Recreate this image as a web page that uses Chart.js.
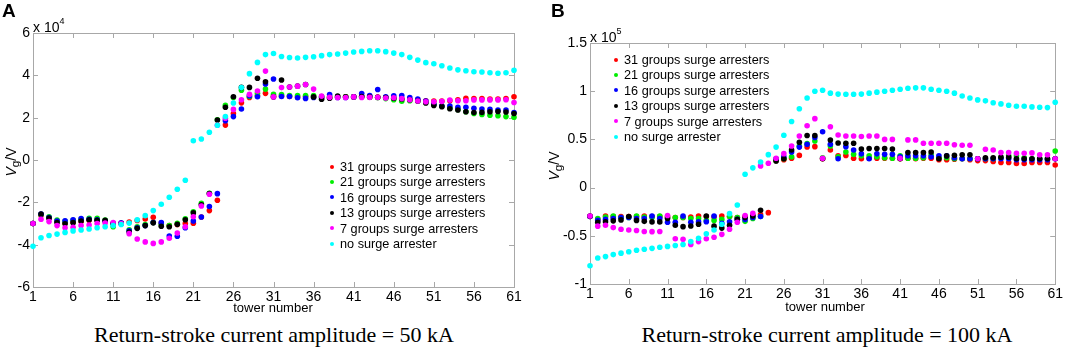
<!DOCTYPE html>
<html lang="en">
<head>
  <meta charset="UTF-8">
  <title>Ground potential along towers</title>
  <script src="https://cdn.jsdelivr.net/npm/chart.js"></script>
  <style>
    body {
      margin: 0;
      width: 1065px;
      height: 349px;
      position: relative;
      overflow: hidden;
      background: white;
      font-family: "Liberation Sans", Arial, sans-serif;
      color: black;
    }
    .abs { position: absolute; white-space: nowrap; }
    .letter { font-weight: bold; font-size: 19px; }
    .caption { font-family: "Liberation Serif", "Times New Roman", serif; font-size: 22px; transform: translateX(-50%); }
    .xlabel { font-size: 13px; transform: translateX(-50%); }
    .ylabel { font-size: 14px; transform: translate(-50%, -50%) rotate(-90deg); }
    .ylabel i { font-style: italic; }
    .expo { font-size: 14px; }
    .expo sup { font-size: 9px; position: relative; top: -2px; }
    .legend { font-size: 12.7px; line-height: 15.4px; }
    .legend span.dot {
      display: inline-block; width: 4px; height: 4px; border-radius: 50%;
      margin-right: 6px; vertical-align: middle; position: relative; top: -1px;
    }
  </style>
</head>
<body>

<canvas id="chartA" class="abs" width="530" height="320" style="left:0;top:0"></canvas>
<canvas id="chartB" class="abs" width="535" height="320" style="left:530px;top:0"></canvas>

<div class="abs letter" style="left:2px;top:0px">A</div>
<div class="abs letter" style="left:551px;top:0px">B</div>

<div class="abs expo" style="left:33px;top:18px">x 10<sup>4</sup></div>
<div class="abs expo" style="left:590px;top:28px">x 10<sup>5</sup></div>

<div class="abs ylabel" style="left:12px;top:162px"><i>V</i><sub>g</sub>/V</div>
<div class="abs ylabel" style="left:555px;top:166px"><i>V</i><sub>g</sub>/V</div>

<div class="abs xlabel" style="left:273px;top:300px">tower number</div>
<div class="abs xlabel" style="left:825px;top:299px">tower number</div>

<div class="abs caption" style="left:274px;top:322px">Return-stroke current amplitude = 50 kA</div>
<div class="abs caption" style="left:827px;top:322px">Return-stroke current amplitude = 100 kA</div>

<div id="legendA" class="abs legend" style="left:330px;top:160px"></div>
<div id="legendB" class="abs legend" style="left:614px;top:53px"></div>

<script>
  // tower numbers and axis ticks
  const towers = [1,2,3,4,5,6,7,8,9,10,11,12,13,14,15,16,17,18,19,20,
    21,22,23,24,25,26,27,28,29,30,31,32,33,34,35,36,37,38,39,40,
    41,42,43,44,45,46,47,48,49,50,51,52,53,54,55,56,57,58,59,60,61];
  const xTicks = [1, 6, 11, 16, 21, 26, 31, 36, 41, 46, 51, 56, 61];
  const yTicksA = [-6, -4, -2, 0, 2, 4, 6];
  const yTicksB = [-1, -0.5, 0, 0.5, 1, 1.5];

  const seriesNames = ["31 groups surge arresters", "21 groups surge arresters", "16 groups surge arresters",
    "13 groups surge arresters", "7 groups surge arresters", "no surge arrester"];
  const seriesColors = ["#ff0000", "#00ee00", "#0000ff", "#000000", "#ff00ff", "#00ffff"];

  // panel A, 50 kA, values in 10^4 V
  const a31 = [-3.0,-2.62,-2.75,-2.92,-2.98,-2.95,-2.9,-2.85,-2.85,-2.88,
    -3.0,-3.0,-2.93,-2.86,-2.79,-2.71,-2.98,-3.1,-3.05,-3.0,
    -2.99,-2.69,-2.39,-1.9,1.65,2.2,2.7,2.95,3.05,3.15,
    3.0,3.02,3.0,2.98,3.0,2.98,2.98,2.97,2.98,2.98,
    2.98,3.0,2.98,2.97,2.95,2.92,2.88,2.85,2.83,2.8,
    2.78,2.78,2.8,2.85,2.91,2.9,2.9,2.88,2.88,2.9,
    2.99];
  const a21 = [-3.0,-2.58,-2.68,-2.84,-2.9,-2.85,-2.8,-2.76,-2.76,-2.84,
    -3.15,-3.0,-3.3,-3.15,-3.05,-2.95,-3.05,-3.1,-2.99,-2.78,
    -2.45,-2.05,-1.57,1.9,2.58,2.95,3.3,3.0,3.15,3.35,
    3.1,3.09,3.05,3.05,3.04,3.05,3.0,2.98,2.98,2.98,
    2.98,2.98,2.97,2.95,2.9,2.85,2.78,2.8,2.78,2.72,
    2.62,2.55,2.45,2.38,2.28,2.2,2.15,2.12,2.09,2.05,
    2.02];
  const a16 = [-3.0,-2.55,-2.72,-2.88,-2.87,-2.82,-2.77,-2.8,-2.82,-2.88,
    -3.0,-2.97,-3.35,-3.2,-3.1,-2.95,-2.96,-3.59,-3.6,-3.2,
    -2.88,-2.69,-2.2,-1.59,1.86,2.05,2.41,3.04,2.99,3.59,
    3.83,3.0,3.0,2.94,2.91,2.95,2.95,3.09,2.95,2.95,
    2.98,3.14,3.05,3.33,2.98,3.03,3.05,2.95,2.88,2.78,
    2.63,2.55,2.55,2.49,2.49,2.44,2.41,2.39,2.36,2.36,
    2.24];
  const a13 = [-3.0,-2.55,-2.74,-2.95,-3.01,-2.96,-2.88,-2.82,-2.85,-2.85,
    -3.0,-3.0,-3.4,-3.23,-3.1,-2.97,-3.13,-3.15,-3.04,-2.82,
    -2.5,-2.12,-1.58,1.89,2.49,2.99,3.43,3.43,3.86,3.7,
    2.98,3.78,3.45,3.49,3.57,2.98,2.87,2.92,3.02,2.99,
    2.98,3.0,2.98,2.96,2.95,2.92,2.88,2.85,2.79,2.69,
    2.58,2.52,2.42,2.36,2.28,2.24,2.25,2.28,2.29,2.27,
    2.2];
  const a7 = [-3.0,-2.8,-2.91,-3.1,-3.2,-3.18,-3.1,-3.07,-3.0,-2.98,
    -2.95,-3.0,-3.48,-3.73,-3.87,-3.94,-3.87,-3.7,-3.45,-3.15,
    -2.68,-2.17,-1.62,1.64,1.97,2.39,2.85,3.1,3.26,4.2,
    2.98,3.42,3.45,3.49,3.57,3.35,3.02,2.96,2.95,2.95,
    2.98,2.95,2.96,2.96,2.93,2.94,2.9,2.85,2.79,2.75,
    2.75,2.77,2.83,2.8,2.8,2.84,2.84,2.84,2.84,2.85,
    2.72];
  const a0 = [-4.08,-3.67,-3.57,-3.5,-3.42,-3.35,-3.31,-3.26,-3.2,-3.15,
    -3.1,-3.05,-2.98,-2.82,-2.63,-2.39,-2.09,-1.76,-1.38,-0.96,
    0.91,0.99,1.31,1.64,2.05,2.69,3.42,4.08,4.61,4.98,
    5.03,4.89,4.84,4.82,4.85,4.88,4.93,4.98,5.01,5.05,
    5.1,5.13,5.16,5.16,5.12,5.05,4.98,4.85,4.72,4.6,
    4.55,4.45,4.35,4.26,4.22,4.17,4.16,4.12,4.1,4.12,
    4.24];

  // panel B, 100 kA, values in 10^5 V
  const b31 = [-0.3,-0.33,-0.295,-0.3,-0.3,-0.3,-0.3,-0.295,-0.3,-0.3,
    -0.3,-0.31,-0.31,-0.305,-0.295,-0.3,-0.305,-0.295,-0.3,-0.31,
    -0.3,-0.29,-0.28,-0.26,0.28,0.29,0.304,0.334,0.422,0.425,
    0.3,0.39,0.33,0.333,0.304,0.3,0.304,0.304,0.304,0.304,
    0.3,0.304,0.3,0.304,0.304,0.29,0.29,0.295,0.3,0.29,
    0.28,0.28,0.27,0.26,0.26,0.25,0.25,0.26,0.26,0.26,
    0.235];
  const b21 = [-0.3,-0.32,-0.305,-0.295,-0.31,-0.31,-0.295,-0.305,-0.31,-0.295,
    -0.31,-0.31,-0.31,-0.32,-0.32,-0.34,-0.34,-0.33,-0.3,-0.31,
    -0.35,-0.32,-0.3,null,0.28,0.3,0.32,0.43,0.456,0.484,
    0.31,0.432,0.32,0.37,0.346,0.33,0.33,0.32,0.31,0.304,
    0.33,0.304,0.304,0.31,0.34,0.31,0.31,0.3,0.3,0.3,
    0.3,0.3,0.3,0.31,0.33,0.33,0.31,0.3,0.3,0.3,
    0.38];
  const b16 = [-0.3,-0.34,-0.33,-0.32,-0.31,-0.31,-0.32,-0.32,-0.295,-0.32,
    -0.36,-0.36,-0.295,-0.36,-0.355,-0.355,-0.295,-0.37,-0.355,-0.33,
    -0.33,-0.31,-0.3,null,0.3,0.32,0.37,0.42,0.45,0.52,
    0.58,0.45,0.3,0.425,0.39,0.35,0.3,0.35,0.345,0.345,
    0.32,0.33,0.33,0.33,0.32,0.33,0.33,0.31,0.3,0.3,
    0.3,0.3,0.3,0.3,0.3,0.29,0.29,0.29,0.29,0.29,
    0.3];
  const b13 = [-0.295,-0.36,-0.355,-0.345,-0.335,-0.3,-0.34,-0.35,-0.356,-0.356,
    -0.32,-0.39,-0.405,-0.398,-0.38,-0.295,-0.4,-0.42,-0.39,-0.33,
    -0.31,-0.295,-0.235,null,0.276,0.3,0.39,0.47,0.54,0.54,
    0.3,0.494,0.463,0.46,0.46,0.4,0.405,0.405,0.405,0.4,
    0.3,0.363,0.363,0.363,0.37,0.3,0.329,0.335,0.34,0.34,
    0.3,0.31,0.31,0.316,0.316,0.3,0.3,0.3,0.3,0.3,
    0.3];
  const b7 = [-0.295,-0.4,-0.39,-0.415,-0.432,-0.44,-0.445,-0.455,-0.457,-0.455,
    -0.29,-0.53,-0.536,-0.59,-0.56,-0.53,-0.515,-0.485,-0.432,-0.36,
    -0.29,-0.267,0.225,0.252,0.304,0.352,0.432,0.536,0.642,0.715,
    0.304,0.632,0.546,0.536,0.536,0.53,0.536,0.536,0.5,0.5,
    0.304,0.495,0.495,0.46,0.46,0.46,0.46,0.445,0.44,0.44,
    0.3,0.398,0.39,0.363,0.363,0.356,0.356,0.36,0.34,0.34,
    0.3];
  const b0 = [-0.81,-0.73,-0.716,-0.695,-0.68,-0.665,-0.65,-0.64,-0.63,-0.618,
    -0.61,-0.6,-0.59,-0.56,-0.525,-0.48,-0.44,-0.38,-0.27,-0.18,
    0.138,0.205,0.266,0.342,0.42,0.543,0.685,0.818,0.93,1.0,
    1.01,0.98,0.97,0.968,0.968,0.97,0.98,0.99,1.0,1.01,
    1.02,1.03,1.035,1.035,1.02,1.01,1.0,0.98,0.95,0.93,
    0.91,0.9,0.88,0.868,0.854,0.844,0.844,0.837,0.834,0.83,
    0.885];

  Chart.defaults.font.family = '"Liberation Sans", Arial, sans-serif';
  Chart.defaults.font.size = 14;
  Chart.defaults.color = "#000";

  // matlab style box with inward ticks on all four sides
  const boxTicks = {
    id: "boxTicks",
    beforeDatasetsDraw(chart) {
      const { ctx, chartArea: a, scales: { x, y } } = chart;
      ctx.save();
      ctx.strokeStyle = "#a8a8a8";
      ctx.lineWidth = 1;
      ctx.strokeRect(Math.round(a.left) + 0.5, Math.round(a.top) + 0.5,
        Math.round(a.width), Math.round(a.height));
      ctx.beginPath();
      x.ticks.forEach(t => {
        const px = Math.round(x.getPixelForValue(t.value)) + 0.5;
        ctx.moveTo(px, a.bottom); ctx.lineTo(px, a.bottom - 5);
        ctx.moveTo(px, a.top); ctx.lineTo(px, a.top + 5);
      });
      y.ticks.forEach(t => {
        const py = Math.round(y.getPixelForValue(t.value)) + 0.5;
        ctx.moveTo(a.left, py); ctx.lineTo(a.left + 5, py);
        ctx.moveTo(a.right, py); ctx.lineTo(a.right - 5, py);
      });
      ctx.stroke();
      ctx.restore();
    }
  };

  function makeDatasets(list) {
    return list.map((vals, i) => ({
      label: seriesNames[i],
      data: towers.map((t, k) => ({ x: t, y: vals[k] })).filter(p => p.y !== null),
      backgroundColor: seriesColors[i],
      borderWidth: 0,
      pointRadius: 2.8,
      clip: false,
      order: list.length - i
    }));
  }

  function makeChart(id, list, yTicks, yWidth, xHeight, padding) {
    return new Chart(document.getElementById(id), {
      type: "scatter",
      data: { datasets: makeDatasets(list) },
      plugins: [boxTicks],
      options: {
        responsive: false,
        animation: false,
        layout: { padding: padding },
        plugins: { legend: { display: false }, tooltip: { enabled: false } },
        scales: {
          x: {
            type: "linear", min: 1, max: 61,
            grid: { display: false, drawTicks: false },
            border: { display: false },
            ticks: { padding: 2, maxRotation: 0, autoSkip: false },
            afterBuildTicks: s => { s.ticks = xTicks.map(v => ({ value: v })); },
            afterFit: s => { s.height = xHeight; }
          },
          y: {
            type: "linear", min: yTicks[0], max: yTicks[yTicks.length - 1],
            grid: { display: false, drawTicks: false },
            border: { display: false },
            ticks: { padding: 3, autoSkip: false, callback: v => String(v) },
            afterBuildTicks: s => { s.ticks = yTicks.map(v => ({ value: v })); },
            afterFit: s => { s.width = yWidth; }
          }
        }
      }
    });
  }

  const chartA = makeChart("chartA", [a31, a21, a16, a13, a7, a0], yTicksA, 33, 33,
    { top: 33, right: 16, left: 0, bottom: 0 });
  const chartB = makeChart("chartB", [b31, b21, b16, b13, b7, b0], yTicksB, 60, 36,
    { top: 43, right: 4, left: 0, bottom: 0 });

  function buildLegend(id) {
    const el = document.getElementById(id);
    seriesNames.forEach((name, i) => {
      const row = document.createElement("div");
      row.innerHTML = '<span class="dot" style="background:' + seriesColors[i] + '"></span>' + name;
      el.appendChild(row);
    });
  }
  buildLegend("legendA");
  buildLegend("legendB");
</script>

</body>
</html>
